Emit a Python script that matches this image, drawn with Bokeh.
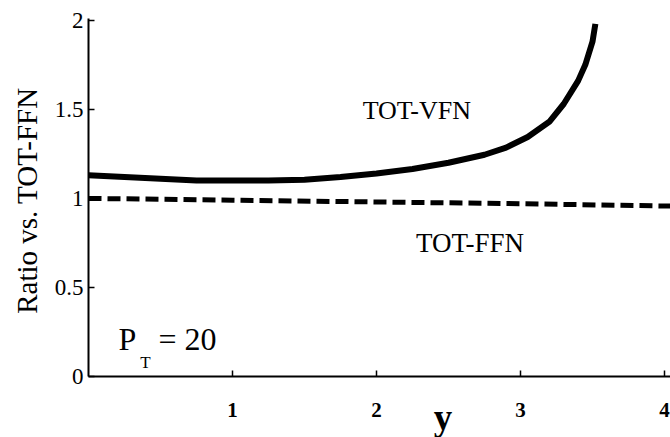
import math

from bokeh.plotting import figure
from bokeh.models import Range1d, Label, ColumnDataSource
from bokeh.embed import file_html
from bokeh.resources import INLINE

# Ratio of the VFN total to the FFN total versus rapidity y at P_T = 20
y_vfn = [0.0, 0.25, 0.5, 0.75, 1.0, 1.25, 1.5, 1.75, 2.0, 2.25, 2.5, 2.75,
         2.9, 3.05, 3.2, 3.3, 3.4, 3.45, 3.5, 3.52]
ratio_vfn = [1.13, 1.12, 1.11, 1.10, 1.10, 1.10, 1.105, 1.12, 1.14, 1.165,
             1.20, 1.245, 1.285, 1.345, 1.43, 1.53, 1.66, 1.75, 1.88, 1.98]

y_ffn = [0.0, 1.0, 2.0, 3.0, 4.04]
ratio_ffn = [1.0, 0.99, 0.98, 0.97, 0.957]

x_ticks = [1, 2, 3, 4]
y_ticks = [0, 0.5, 1, 1.5, 2]

SERIF = "Liberation Serif"

# The frame fills the whole page; both axes are pinned at zero so that the
# titles and the tick labels can be laid out freely around them.
p = figure(width=670, height=437, output_backend="svg", toolbar_location=None,
           x_range=Range1d(-0.6111, 4.0417), y_range=Range1d(-0.3425, 2.1112),
           min_border_left=0, min_border_right=0, min_border_top=0,
           min_border_bottom=0)
p.outline_line_color = None
p.xgrid.visible = False
p.ygrid.visible = False
p.background_fill_color = "white"
p.border_fill_color = "white"

vfn = ColumnDataSource(dict(x=y_vfn, r=ratio_vfn))
ffn = ColumnDataSource(dict(x=y_ffn, r=ratio_ffn))
p.line("x", "r", source=vfn, line_color="black", line_width=6)
p.line("x", "r", source=ffn, line_color="black", line_width=5,
       line_dash="13 6")

# axes: ticks pointing into the plotting area
for ax in (p.xaxis[0], p.yaxis[0]):
    ax.fixed_location = 0
    ax.axis_line_color = "black"
    ax.axis_line_width = 2
    ax.major_tick_in = 6
    ax.major_tick_out = 0
    ax.minor_tick_in = 3
    ax.minor_tick_out = 0
    ax.major_tick_line_width = 1.5
    ax.minor_tick_line_width = 1.2
    ax.major_label_text_font = SERIF
    ax.major_label_text_color = "black"

p.xaxis.bounds = (0, 4.04)
p.xaxis.ticker = x_ticks
p.xaxis.ticker.num_minor_ticks = 10
p.xaxis.major_label_text_font_size = "21px"
p.xaxis.major_label_text_font_style = "bold"
p.xaxis.major_label_standoff = 26

p.yaxis.bounds = (0, 2.01)
p.yaxis.ticker = y_ticks
p.yaxis.ticker.num_minor_ticks = 10
p.yaxis.major_label_text_font_size = "23px"
p.yaxis.major_label_standoff = 5
p.yaxis.major_label_overrides = {0: "0", 0.5: "0.5", 1: "1", 1.5: "1.5", 2: "2"}

# axis titles
p.add_layout(Label(x=-0.4236, y=0.988, text="Ratio vs. TOT-FFN",
                   text_font=SERIF, text_font_size="29px",
                   text_align="center", text_baseline="middle",
                   angle=math.pi / 2, text_color="black"))
p.add_layout(Label(x=2.462, y=-0.228, text="y", text_font=SERIF,
                   text_font_size="37px", text_font_style="bold",
                   text_align="center", text_baseline="middle",
                   text_color="black"))

# curve captions
p.add_layout(Label(x=2.28, y=1.494, text="TOT-VFN", text_font=SERIF,
                   text_font_size="26px", text_align="center",
                   text_baseline="middle", text_color="black"))
p.add_layout(Label(x=2.65, y=0.747, text="TOT-FFN", text_font=SERIF,
                   text_font_size="27px", text_align="center",
                   text_baseline="middle", text_color="black"))

# P_T = 20 with a lowered subscript
p.add_layout(Label(x=0.208, y=0.213, text="P", text_font=SERIF,
                   text_font_size="32px", text_align="left",
                   text_baseline="alphabetic", text_color="black"))
p.add_layout(Label(x=0.396, y=0.079, text="T", text_font=SERIF,
                   text_font_size="17px", text_align="center",
                   text_baseline="alphabetic", text_color="black"))
p.add_layout(Label(x=0.486, y=0.213, text="= 20", text_font=SERIF,
                   text_font_size="32px", text_align="left",
                   text_baseline="alphabetic", text_color="black"))

open("out.html", "w").write(file_html(p, INLINE))
